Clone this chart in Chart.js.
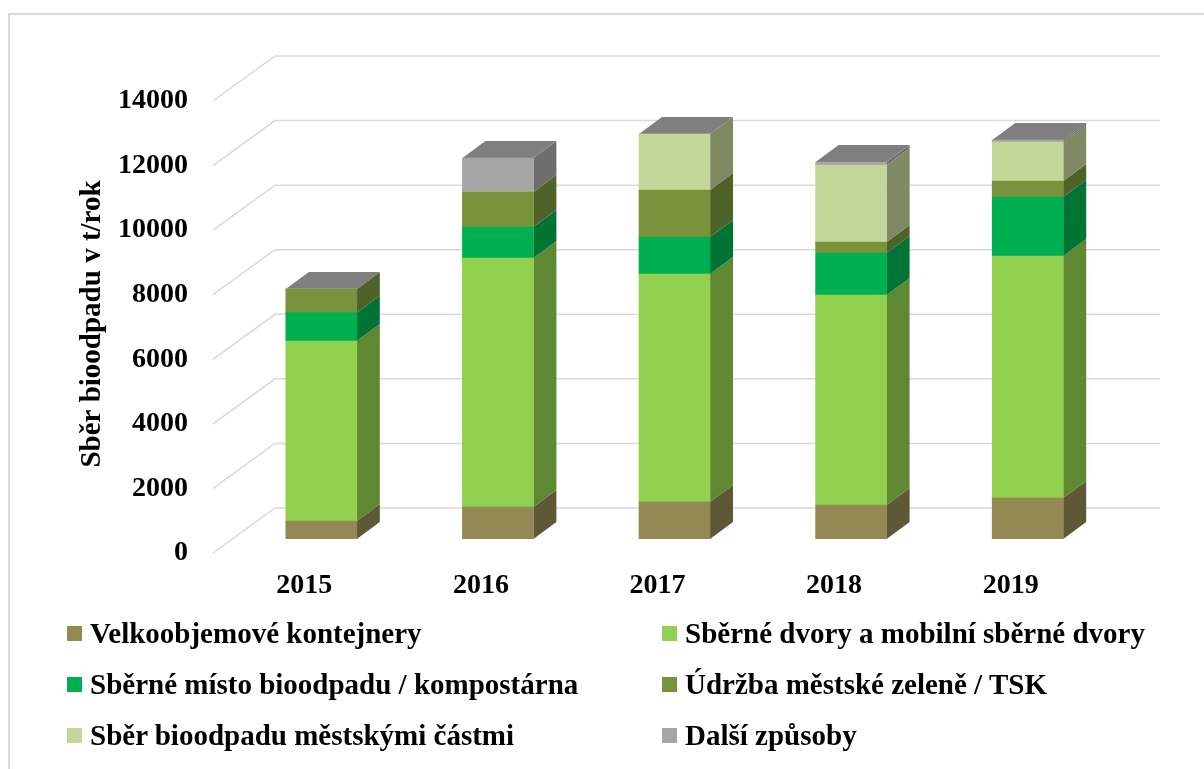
<!DOCTYPE html>
<html>
<head>
<meta charset="utf-8">
<script src="https://cdn.jsdelivr.net/npm/chart.js@4.4.1/dist/chart.umd.min.js"></script>
<style>
    html, body { margin: 0; padding: 0; background: #fff; overflow: hidden; }
    #wrap { position: relative; width: 1204px; height: 769px; }
    #frame { position: absolute; left: 8px; top: 13px; width: 1300px; height: 900px; border: 2px solid #d9d9d9; box-sizing: border-box; }
    canvas { position: absolute; left: 0; top: 0; }
    .lg { position: absolute; font: bold 29px 'Liberation Serif', 'Times New Roman', serif; color: #000; white-space: nowrap; line-height: 34px; }
    .lg span { display: inline-block; width: 15px; height: 15px; margin-right: 8px; vertical-align: 2px; }
</style>
</head>
<body>
<div id="wrap">
    <div id="frame"></div>
    <canvas id="bioChart" width="1204" height="769"></canvas>
    <div id="legend"></div>
</div>
<script>
// roky
const years = ['2015', '2016', '2017', '2018', '2019'];

// hodnoty v t/rok
const velkoobjemove = [557, 990, 1146, 1053, 1270];
const sberneDvory = [5575, 7713, 7061, 6504, 7495];
const sberneMisto = [878, 960, 1146, 1301, 1828];
const udrzbaZelene = [733, 1084, 1456, 340, 495];
const mestskeCasti = [0, 0, 1734, 2385, 1208];
const dalsiZpusoby = [0, 1053, 0, 93, 62];

const seriesNames = [
    'Velkoobjemové kontejnery',
    'Sběrné dvory a mobilní sběrné dvory',
    'Sběrné místo bioodpadu / kompostárna',
    'Údržba městské zeleně / TSK',
    'Sběr bioodpadu městskými částmi',
    'Další způsoby'
];
const yTicks = [0, 2000, 4000, 6000, 8000, 10000, 12000, 14000];
const yTitle = 'Sběr bioodpadu v t/rok';

// barvy: čelo, bok
const faceColors = ['#938953', '#92d050', '#00b050', '#77933c', '#c4d79b', '#a6a6a6'];
const sideColors = ['#5f5837', '#5f8833', '#007434', '#4f6228', '#7f8a64', '#6e6e6e'];
const topColor = '#7f7f7f';

const allSeries = [velkoobjemove, sberneDvory, sberneMisto, udrzbaZelene, mestskeCasti, dalsiZpusoby];

// 3D posun (hloubka sloupce, podlaha)
const DEPTH_X = 23, DEPTH_Y = 17;

const threeD = {
    id: 'threeD',
    beforeDatasetsDraw(chart) {
        const ctx = chart.ctx;
        const y = chart.scales.y;
        const area = chart.chartArea;
        ctx.save();
        // mřížka - podlaha + zadní stěna
        ctx.strokeStyle = '#d9d9d9';
        ctx.lineWidth = 1.5;
        y.ticks.forEach(t => {
            const p = y.getPixelForValue(t.value);
            ctx.beginPath();
            ctx.moveTo(area.left - 20, p + 14);
            ctx.lineTo(area.left + 42, p - 31);
            ctx.lineTo(area.right + 44, p - 31);
            ctx.stroke();
        });
        // boky sloupců
        chart.data.datasets.forEach((ds, i) => {
            chart.getDatasetMeta(i).data.forEach(bar => {
                if (Math.abs(bar.base - bar.y) < 0.5) return;
                const r = bar.x + bar.width / 2;
                ctx.fillStyle = sideColors[i];
                ctx.beginPath();
                ctx.moveTo(r, bar.y);
                ctx.lineTo(r, bar.base);
                ctx.lineTo(r + DEPTH_X, bar.base - DEPTH_Y);
                ctx.lineTo(r + DEPTH_X, bar.y - DEPTH_Y);
                ctx.closePath();
                ctx.fill();
            });
        });
        // vršek
        const last = chart.data.datasets.length - 1;
        chart.getDatasetMeta(last).data.forEach(bar => {
            const l = bar.x - bar.width / 2, r = bar.x + bar.width / 2;
            ctx.fillStyle = topColor;
            ctx.beginPath();
            ctx.moveTo(l, bar.y);
            ctx.lineTo(r, bar.y);
            ctx.lineTo(r + DEPTH_X, bar.y - DEPTH_Y);
            ctx.lineTo(l + DEPTH_X, bar.y - DEPTH_Y);
            ctx.closePath();
            ctx.fill();
        });
        ctx.restore();
    },
    afterDraw(chart) {
        // popisek osy y (posunutý na střed podlahy)
        const ctx = chart.ctx;
        const y = chart.scales.y;
        ctx.save();
        ctx.translate(93, (y.top + y.bottom) / 2 + 11);
        ctx.rotate(-Math.PI / 2);
        ctx.font = "bold 29px 'Liberation Serif', 'Times New Roman', serif";
        ctx.fillStyle = '#000';
        ctx.textAlign = 'center';
        ctx.textBaseline = 'middle';
        ctx.fillText(yTitle, 0, 0);
        ctx.restore();
    }
};

Chart.defaults.font.family = "'Liberation Serif', 'Times New Roman', serif";
Chart.defaults.color = '#000';

const ctx = document.getElementById('bioChart').getContext('2d');
new Chart(ctx, {
    type: 'bar',
    data: {
        labels: years,
        datasets: allSeries.map((vals, i) => ({
            label: seriesNames[i],
            data: vals,
            backgroundColor: faceColors[i],
            borderWidth: 0,
            barThickness: 71
        }))
    },
    options: {
        responsive: false,
        animation: false,
        layout: { padding: { top: 87, right: 88, left: 0, bottom: 0 } },
        plugins: {
            legend: { display: false },
            tooltip: { enabled: false }
        },
        scales: {
            x: {
                stacked: true,
                grid: { display: false, drawTicks: false },
                border: { display: false },
                ticks: {
                    font: { size: 28, weight: 'bold' },
                    padding: 30,
                    labelOffset: -17,
                    maxRotation: 0
                },
                afterFit: s => { s.height = 230; }
            },
            y: {
                stacked: true,
                min: 0,
                max: 14000,
                grid: { display: false, drawTicks: false },
                border: { display: false },
                afterBuildTicks: s => { s.ticks = yTicks.map(v => ({ value: v })); },
                ticks: {
                    font: { size: 28, weight: 'bold' },
                    padding: 45,
                    labelOffset: 14,
                    callback: v => String(v)
                },
                afterFit: s => { s.width = 233; }
            }
        }
    },
    plugins: [threeD]
});

// legenda ve dvou sloupcích
const legend = document.getElementById('legend');
seriesNames.forEach((name, i) => {
    const el = document.createElement('div');
    el.className = 'lg';
    el.style.left = (i % 2 === 0 ? 67 : 662) + 'px';
    el.style.top = (616 + Math.floor(i / 2) * 51) + 'px';
    el.innerHTML = '<span style="background:' + faceColors[i] + '"></span>' + name;
    legend.appendChild(el);
});
</script>
</body>
</html>
